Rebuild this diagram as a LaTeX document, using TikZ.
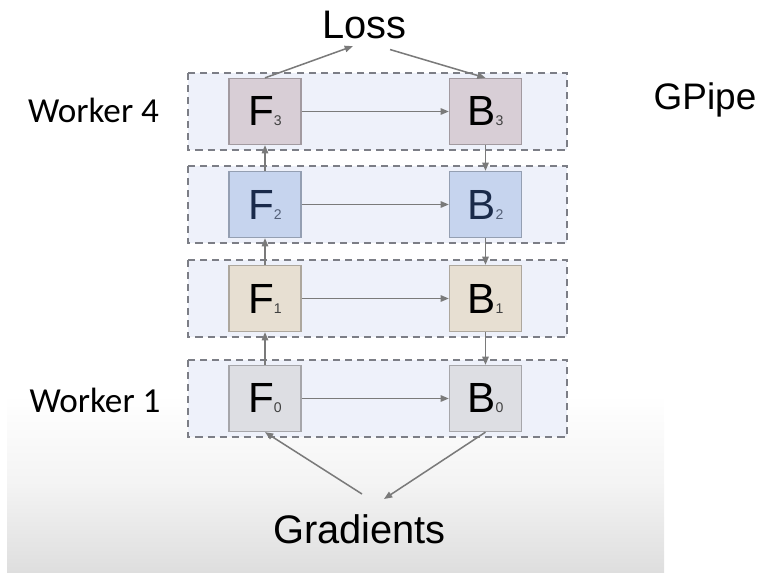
\documentclass[tikz,border=0pt]{standalone}
\usepackage{fontspec}
\setmainfont{Liberation Sans}
\newfontfamily\workerfont{Carlito}
\usepackage{xcolor}
\usetikzlibrary{arrows.meta,positioning}

\definecolor{stagefill}{HTML}{EEF1FA}
\definecolor{dashgray}{HTML}{7C7E86}
\definecolor{arrowgray}{HTML}{7A7A7A}
\definecolor{bggray}{HTML}{DEDEDE}
\definecolor{cellgray}{HTML}{DDDEE3}
\definecolor{cellsand}{HTML}{E7DFD2}
\definecolor{cellblue}{HTML}{C6D4EE}
\definecolor{cellmauve}{HTML}{D8CED6}
\definecolor{navytext}{HTML}{1A2A4A}

% small index set on the base line, right after the letter
\newcommand{\stageidx}[1]{{\fontsize{12}{12}\selectfont\color{.!75!white}#1}}

\begin{document}
\begin{tikzpicture}[x=0.03cm,y=-0.03cm,
  >={Triangle[length=7pt,width=5.5pt]},
  worker/.style={draw=dashgray,line width=1.7pt,dash pattern=on 6pt off 4.3pt,fill=stagefill},
  cell/.style={line width=1.1pt,minimum width=2.16cm,minimum height=1.98cm,inner sep=0pt,
    font=\fontsize{36}{36}\selectfont},
  flow/.style={->,draw=arrowgray,line width=1.3pt},
  title/.style={font=\fontsize{34}{34}\selectfont,inner sep=2pt,anchor=base}]
  \useasboundingbox (0,0) rectangle (759,573);
  % grey fade behind the lower part
  \shade[top color=white,bottom color=bggray,middle color=bggray!35!white] (7,395) rectangle (664,573);
  % one dashed band per worker, forward and backward cell inside
  \foreach \i/\y/\fc/\tc in {
    0/398.5/cellgray/black,
    1/298.5/cellsand/black,
    2/204.5/cellblue/navytext,
    3/111.5/cellmauve/black}{
    \draw[worker] (188,\y-38.5) rectangle (567,\y+38.5);
    \node[cell,draw=\fc!75!black,fill=\fc,text=\tc] (f\i) at (265,\y) {F\stageidx{\i}};
    \node[cell,draw=\fc!75!black,fill=\fc,text=\tc] (b\i) at (485.5,\y) {B\stageidx{\i}};
    \draw[flow] (f\i) -- (b\i);
  }
  % activations go up, gradients come back down
  \foreach \i in {0,1,2}{
    \pgfmathtruncatemacro{\j}{\i+1}
    \draw[flow] (f\i) -- (f\j);
    \draw[flow] (b\j) -- (b\i);
  }
  \node[font=\workerfont\fontsize{30}{30}\selectfont,anchor=base] (w4) at (93.5,123) {Worker 4};
  \node[font=\workerfont\fontsize{30}{30}\selectfont,anchor=base] (w1) at (95,412) {Worker 1};
  \node[title] (loss) at (364.5,39) {Loss};
  \node[title] (grad) at (359.5,543) {Gradients};
  \node[title,font=\fontsize{31.5}{31.5}\selectfont] (gpipe) at (705,110) {GPipe};
  \draw[flow,shorten >=0.37cm] (f3.north) -- (loss.south);
  \draw[flow,shorten <=0.8cm] (loss.south) -- (b3.north);
  \coordinate (gin) at (362,494);
  \coordinate (gout) at (384,499);
  \draw[flow] (gin) -- (f0.south);
  \draw[flow] (b0.south) -- (gout);
\end{tikzpicture}
\end{document}
